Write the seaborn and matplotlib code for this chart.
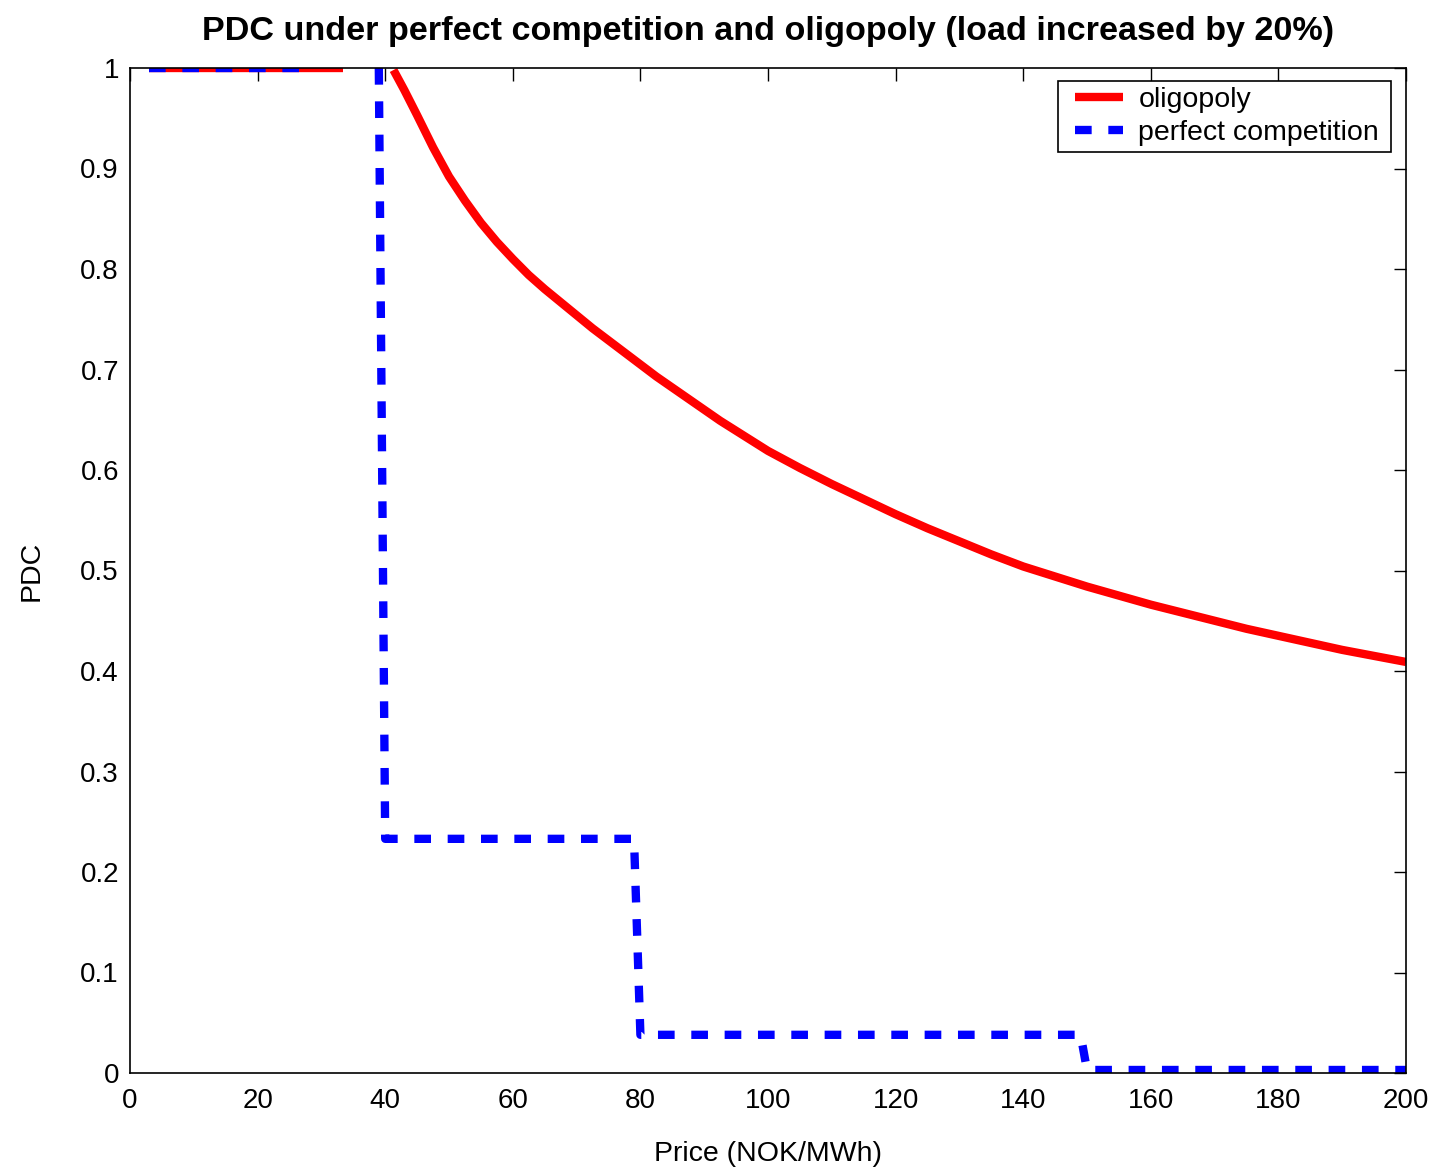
import numpy as np
import pandas as pd
import matplotlib
matplotlib.use("Agg")
import matplotlib.pyplot as plt
from matplotlib.legend_handler import HandlerLine2D
from matplotlib.offsetbox import DrawingArea
import seaborn as sns

# Oligopoly price duration curve: a flat head and the decaying tail
oligo_price = [3.0, 33.4,
               41.3, 43.0, 45.0, 47.5, 50.0, 52.5, 55.0, 57.5, 60.0, 62.5,
               65.0, 67.5, 70.0, 72.5, 75.0, 77.5, 80.0, 82.5, 85.0, 87.5,
               90.0, 92.5, 95.0, 97.5, 100.0, 105.0, 110.0, 115.0, 120.0,
               125.0, 130.0, 135.0, 140.0, 145.0, 150.0, 155.0, 160.0, 165.0,
               170.0, 175.0, 180.0, 185.0, 190.0, 195.0, 200.0]
oligo_pdc = [1.0, 1.0,
             0.998, 0.978, 0.953, 0.921, 0.892, 0.868, 0.846, 0.827, 0.810, 0.794,
             0.780, 0.767, 0.754, 0.741, 0.729, 0.717, 0.705, 0.693, 0.682, 0.671,
             0.660, 0.649, 0.639, 0.629, 0.619, 0.602, 0.586, 0.571, 0.556,
             0.542, 0.529, 0.516, 0.504, 0.494, 0.484, 0.475, 0.466, 0.458,
             0.450, 0.442, 0.435, 0.428, 0.421, 0.415, 0.409]
oligo_seg = [0, 0] + [1] * (len(oligo_price) - 2)

# Perfect competition price duration curve (step function)
comp_seg = [0, 0, 1, 1, 1, 1, 1, 1, 1]
comp_price = [3, 28, 39, 40, 79, 80, 149, 150, 200]
comp_pdc = [1.0, 1.0, 1.0, 0.233, 0.233, 0.038, 0.038, 0.003, 0.003]

x_ticks = list(range(0, 201, 20))
y_ticks = [0, 0.1, 0.2, 0.3, 0.4, 0.5, 0.6, 0.7, 0.8, 0.9, 1]
y_ticklabels = ["0", "0.1", "0.2", "0.3", "0.4", "0.5", "0.6", "0.7", "0.8", "0.9", "1"]
series_names = ["oligopoly", "perfect competition"]

oligo = pd.DataFrame({"price": oligo_price, "pdc": oligo_pdc, "seg": oligo_seg})
comp = pd.DataFrame({"price": comp_price, "pdc": comp_pdc, "seg": comp_seg})

sns.set_style("white")
plt.rcParams["font.family"] = ["Liberation Sans", "DejaVu Sans"]
for key in ["text.color", "axes.labelcolor", "xtick.color", "ytick.color"]:
    plt.rcParams[key] = "black"

fig = plt.figure(figsize=(14.34, 11.70), dpi=100)
ax = fig.add_axes([130 / 1434, 1 - 1073 / 1170, 1276 / 1434, 1005 / 1170])

sns.lineplot(data=oligo, x="price", y="pdc", units="seg", estimator=None,
             sort=False, color="#ff0000", linewidth=6, ax=ax,
             solid_capstyle="butt", solid_joinstyle="round")
n_red = len(ax.lines)
sns.lineplot(data=comp, x="price", y="pdc", units="seg", estimator=None,
             sort=False, color="#0000ff", linewidth=6, ax=ax,
             linestyle=(0, (2.0, 2.0)))

ax.set_xlim(0, 200)
ax.set_ylim(0, 1)
ax.set_xticks(x_ticks)
ax.set_xticklabels([str(t) for t in x_ticks])
ax.set_yticks(y_ticks)
ax.set_yticklabels(y_ticklabels)
ax.tick_params(direction="in", length=9, width=1, top=True, right=True,
               labelsize=20, colors="black")
ax.tick_params(axis="x", pad=10.5)
ax.tick_params(axis="y", pad=8)

for sp in ax.spines.values():
    sp.set_visible(True)
    sp.set_color("black")
    sp.set_linewidth(1.2)

ax.set_xlabel("Price (NOK/MWh)", fontsize=20.5, labelpad=20)
ax.set_ylabel("PDC", fontsize=20.5, labelpad=26)
ax.set_title("PDC under perfect competition and oligopoly (load increased by 20%)",
             fontsize=24.6, fontweight="bold", pad=20)

handles = [ax.lines[0], ax.lines[n_red]]
leg = ax.legend(handles, series_names,
                loc="upper right", bbox_to_anchor=(1 - 15 / 1276, 1 - 13 / 1005),
                borderaxespad=0, fontsize=20.5, frameon=True, fancybox=False,
                framealpha=1, edgecolor="black", handlelength=2.05,
                handletextpad=0.55, labelspacing=0.25, borderpad=0.21,
                handler_map={h: HandlerLine2D(xpad=0.36) for h in handles})
leg.get_frame().set_linewidth(1.2)
# small trailing gap after each label, before the frame edge
for column in leg._legend_handle_box.get_children():
    for row in column.get_children():
        row.get_children().append(DrawingArea(-7, 0))

fig.savefig("out.png", dpi=100, facecolor="white")
